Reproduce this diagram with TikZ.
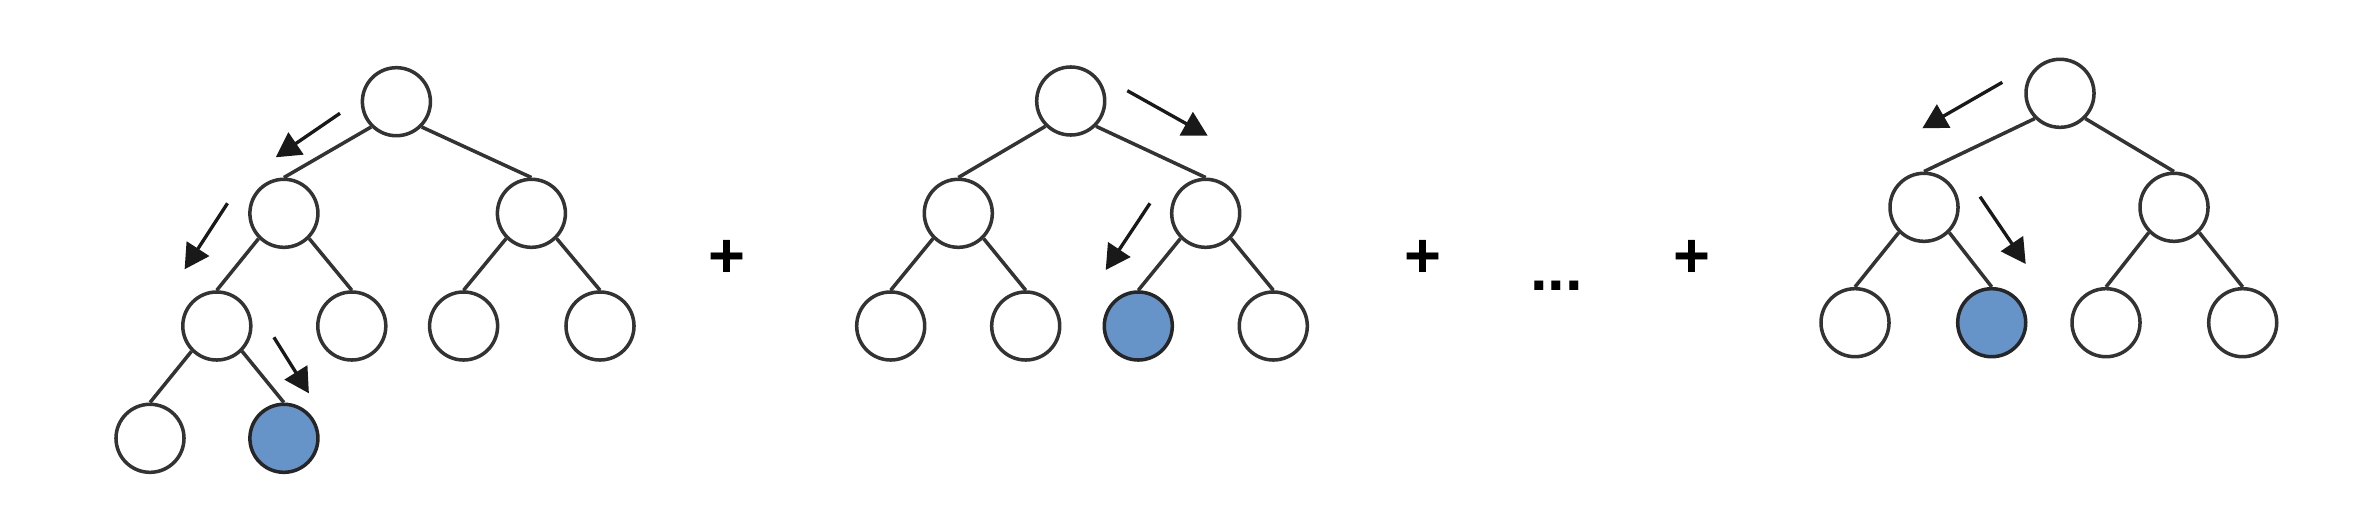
\documentclass[tikz,border=0pt]{standalone}
\usepackage{fontspec}
\setmainfont{Liberation Sans}
\usetikzlibrary{arrows.meta}
\definecolor{nodeblue}{HTML}{6694C8}
\definecolor{edgegray}{HTML}{333333}
\tikzset{
  tn/.style={circle, draw=edgegray, line width=1pt, fill=white, minimum size=0.68cm, inner sep=0pt},
  hit/.style={tn, fill=nodeblue, draw=black!85},
  edge/.style={draw=edgegray, line width=1pt},
  pointer/.style={draw=black!90, line width=0.95pt, -{Triangle[length=7pt,width=7.5pt]}},
  op/.style={font=\fontsize{18}{20}\selectfont\bfseries, inner sep=0pt}
}
\newcommand{\lchild}[2]{\draw[edge] (#1.-135) -- (#2.north);}
\newcommand{\rchild}[2]{\draw[edge] (#1.-45) -- (#2.north);}
\begin{document}
\begin{tikzpicture}[x=0.01cm, y=-0.01cm]
\useasboundingbox (0,0) rectangle (2364,506);
% ---------- tree 1
\node[tn] (a0) at (396.4,101.7) {};
\node[tn] (a1) at (283.9,213.3) {};
\node[tn] (a2) at (531.4,213.3) {};
\node[tn] (a3) at (216.8,326) {};
\node[tn] (a4) at (351.8,326) {};
\node[tn] (a5) at (463.6,326) {};
\node[tn] (a6) at (600,326) {};
\node[tn] (a7) at (150,438.3) {};
\node[hit] (a8) at (283.9,438.3) {};
\lchild{a0}{a1} \rchild{a0}{a2}
\lchild{a1}{a3} \rchild{a1}{a4}
\lchild{a2}{a5} \rchild{a2}{a6}
\lchild{a3}{a7} \rchild{a3}{a8}
\coordinate (p1s) at (340,113.3); \coordinate (p1e) at (275.7,157.3);
\coordinate (p2s) at (227.5,203.3); \coordinate (p2e) at (184.6,269.3);
\coordinate (p3s) at (273.9,337.3); \coordinate (p3e) at (308.9,393.3);
\draw[pointer] (p1s) -- (p1e);
\draw[pointer] (p2s) -- (p2e);
\draw[pointer] (p3s) -- (p3e);
% ---------- plus 1
\node[op] (plus1) at (726.7,259) {+};
% ---------- tree 2
\node[tn] (b0) at (1070.7,101) {};
\node[tn] (b1) at (958.3,213.3) {};
\node[tn] (b2) at (1205.7,213.3) {};
\node[tn] (b3) at (890.7,326) {};
\node[tn] (b4) at (1025.7,326) {};
\node[hit] (b5) at (1138.3,326) {};
\node[tn] (b6) at (1273.3,326) {};
\lchild{b0}{b1} \rchild{b0}{b2}
\lchild{b1}{b3} \rchild{b1}{b4}
\lchild{b2}{b5} \rchild{b2}{b6}
\coordinate (q1s) at (1127.3,90.7); \coordinate (q1e) at (1207.7,135.7);
\coordinate (q2s) at (1150,203.3); \coordinate (q2e) at (1105.7,270);
\draw[pointer] (q1s) -- (q1e);
\draw[pointer] (q2s) -- (q2e);
% ---------- plus, dots, plus
\node[op] (plus2) at (1422.7,259) {+};
\node[op, anchor=base] (dots) at (1556.7,290) {...};
\node[op] (plus3) at (1692.3,259) {+};
% ---------- tree 3
\node[tn] (c0) at (2060,93.3) {};
\node[tn] (c1) at (1924,207.3) {};
\node[tn] (c2) at (2174,207.3) {};
\node[tn] (c3) at (1855,322.7) {};
\node[hit] (c4) at (1991.7,322.7) {};
\node[tn] (c5) at (2106,322.7) {};
\node[tn] (c6) at (2242.7,322.7) {};
\lchild{c0}{c1} \rchild{c0}{c2}
\lchild{c1}{c3} \rchild{c1}{c4}
\lchild{c2}{c5} \rchild{c2}{c6}
\coordinate (r1s) at (2002.3,82.3); \coordinate (r1e) at (1922.3,128.3);
\coordinate (r2s) at (1980,196.7); \coordinate (r2e) at (2025.7,264);
\draw[pointer] (r1s) -- (r1e);
\draw[pointer] (r2s) -- (r2e);
\end{tikzpicture}
\end{document}
